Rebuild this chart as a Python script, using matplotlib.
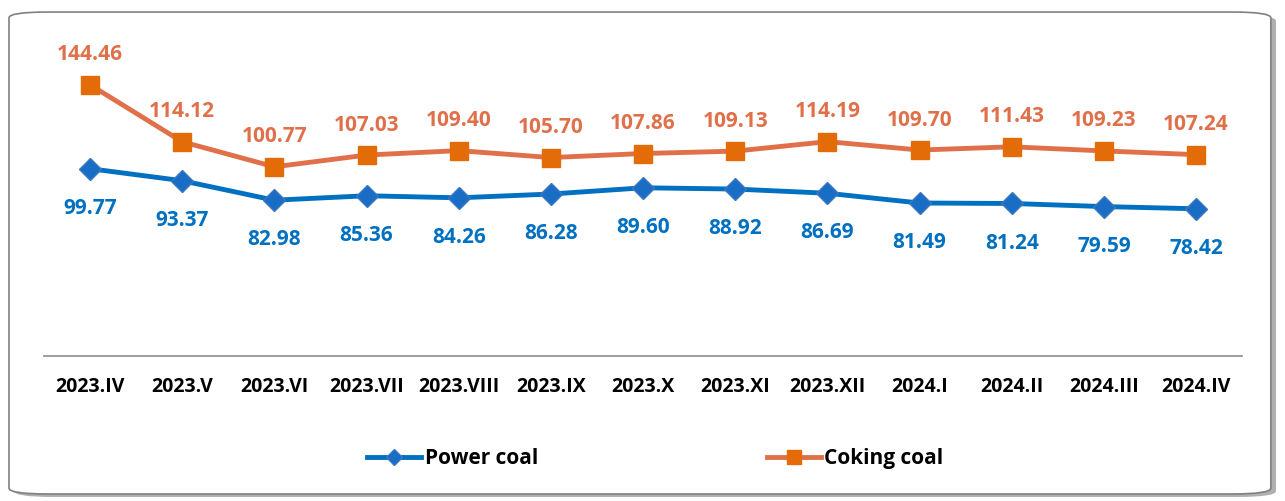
import numpy as np
import matplotlib.pyplot as plt
from matplotlib.patches import FancyBboxPatch

months = ['2023.IV', '2023.V', '2023.VI', '2023.VII', '2023.VIII', '2023.IX', '2023.X',
          '2023.XI', '2023.XII', '2024.I', '2024.II', '2024.III', '2024.IV']
power_coal = [99.77, 93.37, 82.98, 85.36, 84.26, 86.28, 89.60, 88.92, 86.69, 81.49, 81.24, 79.59, 78.42]
coking_coal = [144.46, 114.12, 100.77, 107.03, 109.40, 105.70, 107.86, 109.13, 114.19, 109.70, 111.43, 109.23, 107.24]

plt.rcParams['font.family'] = ['Open Sans', 'DejaVu Sans']

blue = '#0070C0'
orange_line = '#E0704A'
orange_mark = '#E36C09'

fig = plt.figure(figsize=(12.85, 5.01), dpi=100)

# rounded frame with a little shadow
shadow = FancyBboxPatch((0.011, 0.008), 0.982, 0.962, boxstyle='round,pad=0,rounding_size=0.03',
                        transform=fig.transFigure, facecolor='#b0b0b0', edgecolor='none',
                        mutation_aspect=501 / 1285, zorder=-2)
frame = FancyBboxPatch((0.007, 0.014), 0.982, 0.962, boxstyle='round,pad=0,rounding_size=0.03',
                       transform=fig.transFigure, facecolor='white', edgecolor='#808080',
                       linewidth=1.2, mutation_aspect=501 / 1285, zorder=-1)
fig.patches.extend([shadow, frame])

ax = fig.add_axes([0.0342, 0.2894, 0.9325, 0.5996])
ax.set_facecolor('none')
x = np.arange(len(months))

ax.plot(x, power_coal, color=blue, lw=3.5, marker='D', ms=11, mfc='#1A6DC4',
        mec='#3A78C0', label='Power coal', zorder=3)
ax.plot(x, coking_coal, color=orange_line, lw=3.5, marker='s', ms=13, mfc=orange_mark,
        mec=orange_mark, label='Coking coal', zorder=3)

for i in range(len(months)):
    ax.annotate(f'{coking_coal[i]:.2f}', (x[i], coking_coal[i]), xytext=(0, 14),
                textcoords='offset points', ha='center', va='bottom',
                color=orange_line, fontsize=15, fontweight='bold')
    ax.annotate(f'{power_coal[i]:.2f}', (x[i], power_coal[i]), xytext=(0, -21),
                textcoords='offset points', ha='center', va='top',
                color=blue, fontsize=15, fontweight='bold')

ax.set_xlim(-0.5, len(months) - 0.5)
ax.set_ylim(0, 160)
ax.set_xticks(x)
ax.set_xticklabels(months, fontsize=14, fontweight='bold')
ax.tick_params(axis='x', length=0, pad=15)
ax.set_yticks([])
for s in ['top', 'right', 'left']:
    ax.spines[s].set_visible(False)
ax.spines['bottom'].set_color('#8c8c8c')
ax.spines['bottom'].set_linewidth(1.2)

fig.legend(loc='center', bbox_to_anchor=(0.51, 0.085), ncol=2, frameon=False,
           prop={'size': 15, 'weight': 'bold'}, columnspacing=11, handlelength=2.6,
           handletextpad=0.15, markerscale=0.75)

fig.savefig('out.png', dpi=100)
